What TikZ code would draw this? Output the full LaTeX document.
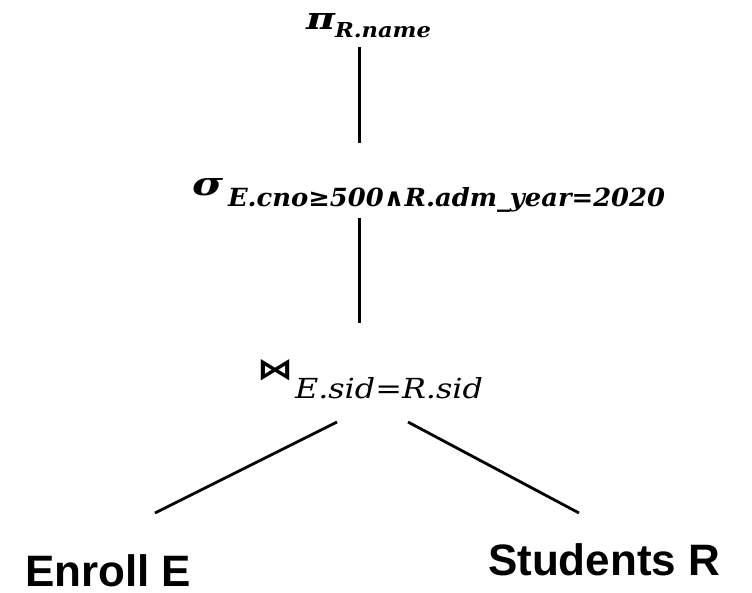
\documentclass[tikz,border=0pt]{standalone}
\usepackage{fontspec}
\usepackage{graphicx}
\setmainfont{Liberation Sans}
\newfontfamily\relfont{DejaVu Serif}
\newfontfamily\opfont{DejaVu Sans}

\begin{document}
\begin{tikzpicture}[x=1pt, y=-1pt,
    edge/.style={line width=2.8pt, line cap=butt},
    oplabel/.style={anchor=base west, inner sep=0pt, outer sep=0pt},
    relation/.style={anchor=base west, inner sep=0pt, outer sep=0pt,
      font=\fontsize{44}{44}\selectfont\bfseries}]
  \useasboundingbox (0,0) rectangle (752,592);

  % projection
  \node[oplabel] (proj) at (306,29)
    {\relfont\bfseries\itshape\resizebox{29pt}{16pt}{π}\hspace{0pt}%
     \raisebox{-8pt}{\resizebox{96pt}{15pt}{R.name}}};

  % selection
  \node[oplabel] (sel) at (192,195)
    {\relfont\bfseries\itshape\resizebox{31pt}{17pt}{σ}\hspace{5pt}%
     \raisebox{-11pt}{\resizebox{437pt}{19pt}{E.cno≥500∧R.adm\_year=2020}}};

  % join
  \node[oplabel] (join) at (257,379)
    {{\opfont\bfseries\resizebox{36pt}{20pt}{⋈}}\hspace{2pt}%
     \raisebox{-19pt}{\relfont\mdseries\itshape\resizebox{188pt}{21pt}{E.sid=R.sid}}};

  % base relations
  \node[relation] (enroll) at (25,586) {Enroll E};
  \node[relation] (students) at (488,575) {Students R};

  % connector end points
  \coordinate (proj-foot) at (359.5,47);
  \coordinate (sel-head)  at (359.5,143);
  \coordinate (sel-foot)  at (359.5,218);
  \coordinate (join-head) at (359.5,323);
  \coordinate (join-left) at (337,422);
  \coordinate (join-right) at (408,422);
  \coordinate (enroll-head) at (155,513);
  \coordinate (students-head) at (579,513);

  \draw[edge] (proj-foot) -- (sel-head);
  \draw[edge] (sel-foot) -- (join-head);
  \draw[edge] (join-left) -- (enroll-head);
  \draw[edge] (join-right) -- (students-head);
\end{tikzpicture}
\end{document}
